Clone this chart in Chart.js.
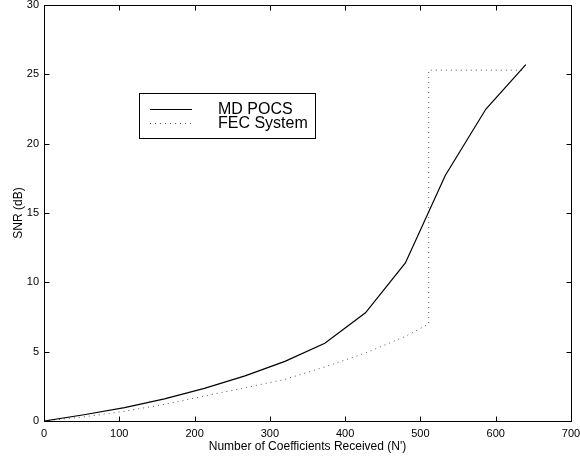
<!DOCTYPE html>
<html>
<head>
<meta charset="utf-8">
<script src="https://cdn.jsdelivr.net/npm/chart.js@4/dist/chart.umd.min.js"></script>
<style>
  html, body { margin: 0; padding: 0; background: #fff; }
  #wrap { width: 580px; height: 457px; }
</style>
</head>
<body>
<div id="wrap"><canvas id="snrChart" width="580" height="457"></canvas></div>
<script>
// x positions (coefficients received) for the MD POCS curve
const coeffN = [0, 53, 107, 160, 213, 267, 320, 373, 427, 480, 533, 587, 640];
const mdPocsSnr = [0, 0.45, 0.97, 1.6, 2.35, 3.25, 4.3, 5.6, 7.8, 11.4, 17.7, 22.5, 25.7];

// FEC system: smooth rise, then a jump at ~511 coefficients
const fecN = [0, 53, 107, 160, 213, 267, 320, 373, 427, 480, 511, 511, 640];
const fecSnr = [0, 0.3, 0.7, 1.2, 1.8, 2.4, 3.0, 3.9, 4.9, 6.1, 7.0, 25.3, 25.3];

const xTicks = [0, 100, 200, 300, 400, 500, 600, 700];
const yTicks = [0, 5, 10, 15, 20, 25, 30];
const seriesNames = ['MD POCS', 'FEC System'];

const FONT = '"Liberation Sans", Arial, Helvetica, sans-serif';

function toPoints(xs, ys) {
  return xs.map((x, i) => ({ x: x, y: ys[i] }));
}

// frame, inward ticks and the boxed legend (drawn inside the axes)
const framePlugin = {
  id: 'frame',
  afterDraw(chart) {
    const ctx = chart.ctx;
    const a = chart.chartArea;
    const xs = chart.scales.x, ys = chart.scales.y;
    const L = Math.round(a.left) + 0.5, R = Math.round(a.right) + 0.5;
    const T = Math.round(a.top) + 0.5, B = Math.round(a.bottom) + 0.5;
    const tl = 5;
    ctx.save();
    ctx.strokeStyle = '#000';
    ctx.lineWidth = 1;
    ctx.strokeRect(L, T, R - L, B - T);
    ctx.beginPath();
    xTicks.forEach(v => {
      const px = Math.round(xs.getPixelForValue(v)) + 0.5;
      ctx.moveTo(px, B); ctx.lineTo(px, B - tl);
      ctx.moveTo(px, T); ctx.lineTo(px, T + tl);
    });
    yTicks.forEach(v => {
      const py = Math.round(ys.getPixelForValue(v)) + 0.5;
      ctx.moveTo(L, py); ctx.lineTo(L + tl, py);
      ctx.moveTo(R, py); ctx.lineTo(R - tl, py);
    });
    ctx.stroke();

    // legend
    const bx = 139.5, by = 93.5, bw = 176, bh = 45;
    ctx.fillStyle = '#fff';
    ctx.fillRect(bx, by, bw, bh);
    ctx.strokeRect(bx, by, bw, bh);
    const rows = [109, 123];
    ctx.font = '16px ' + FONT;
    ctx.textBaseline = 'middle';
    ctx.textAlign = 'left';
    chart.data.datasets.forEach((ds, i) => {
      ctx.beginPath();
      ctx.setLineDash(ds.borderDash || []);
      ctx.strokeStyle = ds.borderColor;
      ctx.lineWidth = ds.borderWidth;
      ctx.moveTo(150, rows[i] + 0.5);
      ctx.lineTo(192, rows[i] + 0.5);
      ctx.stroke();
      ctx.setLineDash([]);
      ctx.fillStyle = '#000';
      ctx.fillText(seriesNames[i], 218, rows[i] + 1);
    });
    ctx.restore();
  }
};

new Chart(document.getElementById('snrChart').getContext('2d'), {
  type: 'scatter',
  data: {
    datasets: [
      {
        label: seriesNames[0],
        data: toPoints(coeffN, mdPocsSnr),
        showLine: true,
        borderColor: '#000',
        borderWidth: 1.2,
        pointRadius: 0,
        fill: false
      },
      {
        label: seriesNames[1],
        data: toPoints(fecN, fecSnr),
        showLine: true,
        borderColor: '#555',
        borderWidth: 1,
        borderDash: [1, 4],
        pointRadius: 0,
        fill: false
      }
    ]
  },
  options: {
    responsive: false,
    animation: false,
    layout: { padding: { top: 5, right: 9, left: 0, bottom: 0 } },
    plugins: { legend: { display: false }, tooltip: { enabled: false } },
    scales: {
      x: {
        type: 'linear',
        min: 0, max: 700,
        afterBuildTicks: s => { s.ticks = xTicks.map(v => ({ value: v })); },
        afterFit: s => { s.height = 36; s.paddingLeft = 0; s.paddingRight = 0; },
        grid: { display: false, drawTicks: false },
        border: { display: false },
        ticks: { color: '#000', padding: 6, font: { family: FONT, size: 11 } },
        title: {
          display: true,
          text: "Number of Coefficients Received (N')",
          color: '#000',
          padding: { top: 0, bottom: 3 },
          font: { family: FONT, size: 12 }
        }
      },
      y: {
        type: 'linear',
        min: 0, max: 30,
        afterBuildTicks: s => { s.ticks = yTicks.map(v => ({ value: v })); },
        afterFit: s => { s.width = 44; s.paddingTop = 0; s.paddingBottom = 0; },
        grid: { display: false, drawTicks: false },
        border: { display: false },
        ticks: { color: '#000', padding: 5, font: { family: FONT, size: 11 } },
        title: {
          display: true,
          text: 'SNR (dB)',
          color: '#000',
          padding: { top: 11, bottom: 0 },
          font: { family: FONT, size: 12 }
        }
      }
    }
  },
  plugins: [framePlugin]
});
</script>
</body>
</html>
